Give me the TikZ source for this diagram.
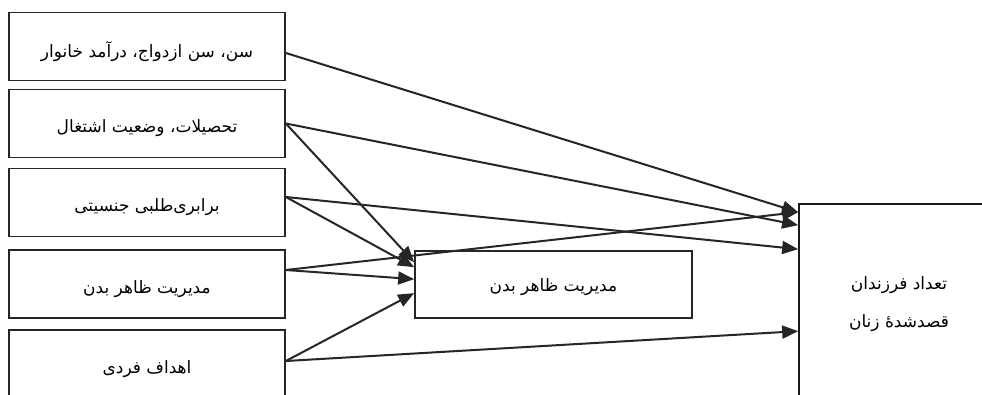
\documentclass[tikz,border=0pt]{standalone}
\usepackage{fontspec}
\newfontfamily\arabicfont[Script=Arabic]{DejaVu Sans}
\TeXXeTstate=1
\usetikzlibrary{arrows.meta}
\newcommand{\rtltext}[2][-5pt]{\raisebox{#1}[\height][\depth]{\beginR #2\endR}}
\begin{document}
\begin{tikzpicture}[x=1pt,y=-1pt,
  box/.style={draw=black!85, line width=1.7pt, minimum width=276pt, minimum height=68pt,
    inner sep=0pt, font=\arabicfont\fontsize{17}{20}\selectfont},
  bigbox/.style={draw=black!90, line width=1.7pt, minimum width=200pt, minimum height=200pt,
    inner sep=0pt, align=center, font=\arabicfont\fontsize{17}{38}\selectfont},
  arr/.style={line width=2pt, draw=black!85, -{Triangle[length=16pt,width=13pt]}}]
\useasboundingbox (0,0) rectangle (982,394);
\clip (0,0) rectangle (982,394);
\fill[white] (0,0) rectangle (982,394);
% left boxes
\node[box] (b1) at (147,46.5) {\rtltext{سن، سن ازدواج، درآمد خانوار}};
\node[box] (b2) at (147,123.5) {\rtltext{تحصیلات، وضعیت اشتغال}};
\node[box] (b3) at (147,202.5) {\rtltext{برابری‌طلبی جنسیتی}};
\node[box] (b4) at (147,284) {\rtltext{مدیریت ظاهر بدن}};
\node[box] (b5) at (147,364) {\rtltext{اهداف فردی}};
% middle box
\node[box, minimum width=277pt, minimum height=67pt] (m) at (553.5,284.5) {\rtltext[-2.5pt]{مدیریت ظاهر بدن}};
% right box
\node[bigbox] (r) at (899,304) {\beginR تعداد فرزندان\endR\\\beginR قصدشدهٔ زنان\endR};
% target points
\coordinate (r1) at ([yshift=-9pt]r.north west);
\coordinate (r2) at ([yshift=-22pt]r.north west);
\coordinate (r3) at ([yshift=-46pt]r.north west);
\coordinate (r4) at ([yshift=-128pt]r.north west);
\coordinate (m1) at ([yshift=-12pt]m.north west);
\coordinate (m2) at ([yshift=-17pt]m.north west);
\coordinate (m3) at ([yshift=-29pt]m.north west);
\coordinate (m4) at ([yshift=-43pt]m.north west);
% start points
\coordinate (s1) at ([yshift=-6.5pt]b1.east);
\coordinate (s2) at (b2.east);
\coordinate (s3) at ([yshift=5.5pt]b3.east);
\coordinate (s4) at ([yshift=14pt]b4.east);
\coordinate (s5) at ([yshift=3pt]b5.east);
% connectors
\draw[arr] (s1) -- (r1);
\draw[arr] (s2) -- (r2);
\draw[arr] (s2) -- (m1);
\draw[arr] (s3) -- (r3);
\draw[arr] (s3) -- (m2);
\draw[arr] (s4) -- (r1);
\draw[arr] (s4) -- (m3);
\draw[arr] (s5) -- (r4);
\draw[arr] (s5) -- (m4);
\end{tikzpicture}
\end{document}
